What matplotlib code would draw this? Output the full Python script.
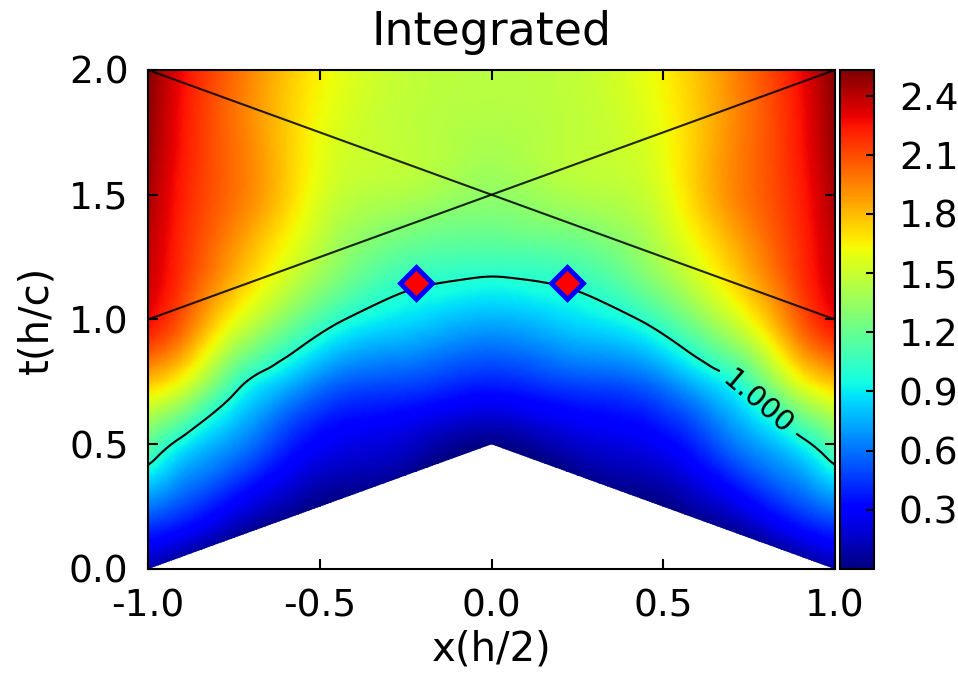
import numpy as np
import matplotlib
matplotlib.use("Agg")
import matplotlib.pyplot as plt
import matplotlib.tri as mtri
from matplotlib.patches import Polygon
from matplotlib.ticker import FormatStrFormatter

plt.rcParams['axes.unicode_minus'] = False

# sample grid of the integrated field
x_grid = [-1.0, -0.9, -0.75, -0.6, -0.45, -0.25, 0.0, 0.25, 0.45, 0.6, 0.75, 0.9, 1.0]
t_grid = [0.0, 0.25, 0.5, 0.75, 1.0, 1.25, 1.5, 1.75, 2.0]

# one row per t value, bottom to top; columns follow x_grid
field = [
    [0.10, -0.02, -0.18, -0.25, -0.30, -0.40, -0.70, -0.40, -0.30, -0.25, -0.18, -0.02, 0.10],
    [0.62, 0.50, 0.28, 0.10, -0.01, -0.11, -0.35, -0.11, -0.01, 0.10, 0.28, 0.50, 0.62],
    [1.18, 0.93, 0.68, 0.42, 0.25, 0.17, 0.02, 0.17, 0.25, 0.42, 0.68, 0.93, 1.18],
    [1.78, 1.60, 1.10, 0.80, 0.58, 0.50, 0.40, 0.50, 0.58, 0.80, 1.10, 1.60, 1.78],
    [2.28, 2.06, 1.62, 1.30, 1.03, 0.87, 0.76, 0.87, 1.03, 1.30, 1.62, 2.06, 2.28],
    [2.38, 2.18, 1.88, 1.60, 1.35, 1.15, 1.10, 1.15, 1.35, 1.60, 1.88, 2.18, 2.38],
    [2.44, 2.22, 2.00, 1.75, 1.50, 1.42, 1.33, 1.42, 1.50, 1.75, 2.00, 2.22, 2.44],
    [2.49, 2.25, 2.00, 1.76, 1.56, 1.47, 1.42, 1.47, 1.56, 1.76, 2.00, 2.25, 2.49],
    [2.53, 2.28, 2.02, 1.78, 1.60, 1.48, 1.45, 1.48, 1.60, 1.78, 2.02, 2.28, 2.53],
]

# lower edge of the valid region (below it nothing is drawn)
edge_x = [-1.0, 0.0, 1.0]
edge_t = [0.0, 0.5, 0.0]

# the two crossing lines
line1_x, line1_t = [-1.0, 1.0], [2.0, 1.0]
line2_x, line2_t = [-1.0, 1.0], [1.0, 2.0]

# marked points
pts_x = [-0.22, 0.22]
pts_t = [1.145, 1.145]

contour_level = 1.0
label_pos = [(0.77, 0.66)]
cbar_ticks = [0.3, 0.6, 0.9, 1.2, 1.5, 1.8, 2.1, 2.4]

fig = plt.figure(figsize=(9.58, 6.74), dpi=100)
ax = fig.add_axes([0.1545, 0.1558, 0.7171, 0.7404])
cax = fig.add_axes([0.8768, 0.1558, 0.0355, 0.7404])

X, T = np.meshgrid(x_grid, t_grid)
Z = np.array(field)

# smooth the coarse samples with matplotlib's cubic triangle interpolation
tri = mtri.Triangulation(X.ravel(), T.ravel())
tri_f, z_f = mtri.UniformTriRefiner(tri).refine_field(Z.ravel(), subdiv=4)

mesh = ax.tripcolor(tri_f, z_f, shading='gouraud', cmap='jet', vmin=0.0, vmax=2.53)
clip_verts = list(zip(edge_x, edge_t)) + [(x_grid[-1], t_grid[-1]), (x_grid[0], t_grid[-1])]
clip = Polygon(clip_verts, closed=True, transform=ax.transData, facecolor='none', edgecolor='none')
ax.add_patch(clip)
mesh.set_clip_path(clip)

cs = ax.tricontour(tri_f, z_f, levels=[contour_level], colors='k', linewidths=1.5)
ax.clabel(cs, fmt='%.3f', fontsize=21, manual=label_pos, inline=True, inline_spacing=8)

ax.plot(line1_x, line1_t, color='k', lw=1.5, alpha=0.85)
ax.plot(line2_x, line2_t, color='k', lw=1.5, alpha=0.85)

ax.plot(pts_x, pts_t, 'D', ms=16, mfc='red', mec='blue', mew=3.5, ls='none')

ax.set_xlim(-1, 1)
ax.set_ylim(0, 2)
ax.set_xticks([-1.0, -0.5, 0.0, 0.5, 1.0])
ax.set_yticks([0.0, 0.5, 1.0, 1.5, 2.0])
ax.xaxis.set_major_formatter(FormatStrFormatter('%.1f'))
ax.yaxis.set_major_formatter(FormatStrFormatter('%.1f'))
ax.tick_params(direction='in', top=True, right=True, length=7, width=1.5,
               labelsize=27, pad=14)
for s in ax.spines.values():
    s.set_linewidth(1.5)

ax.set_xlabel('x(h/2)', fontsize=29, labelpad=4)
ax.set_ylabel('t(h/c)', fontsize=29, labelpad=9)
ax.set_title('Integrated', fontsize=33, pad=18)

cb = fig.colorbar(mesh, cax=cax, ticks=cbar_ticks)
cb.ax.yaxis.set_major_formatter(FormatStrFormatter('%.1f'))
cb.ax.tick_params(direction='in', length=6, width=1.5, labelsize=27, pad=18)
cb.outline.set_linewidth(1.5)

fig.savefig('out.png', dpi=100)
